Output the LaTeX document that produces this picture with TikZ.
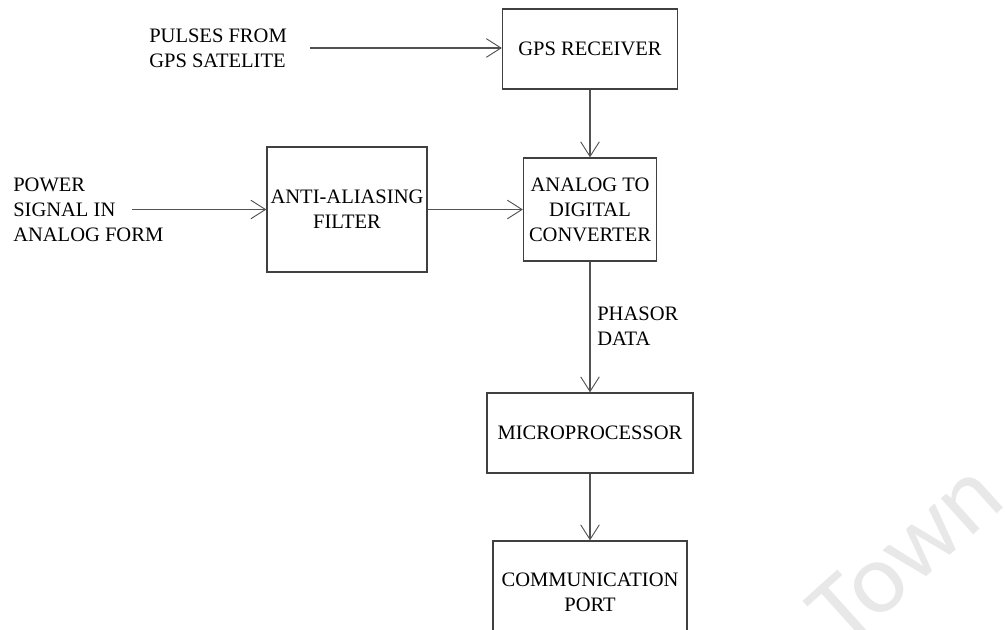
\documentclass[tikz,border=0pt]{standalone}
\usepackage{fontspec}
\setmainfont{Liberation Serif}
\newfontfamily\markfont{Carlito}
\usetikzlibrary{arrows.meta}
\newcommand\blockfont{\fontsize{15.4pt}{18.75pt}\selectfont}
\begin{document}
\begin{tikzpicture}[x=0.75pt,y=-0.75pt,
  block/.style={draw=black!75, line width=1pt, inner sep=0pt, align=center, font=\blockfont},
  sidetext/.style={inner sep=0pt, align=left, font=\blockfont},
  flow/.style={draw=black!68, line width=1.1pt,
    -{Straight Barb[length=11pt,width=14pt,line width=0.7pt]}},
  ]
\useasboundingbox (0,0) rectangle (1005,630);
\clip (0,0) rectangle (1005,630);

% faint watermark behind the diagram
\node[font=\markfont\fontsize{76pt}{76pt}\selectfont, text=black!9, rotate=42]
  (wm) at (905,553) {Town};

% processing blocks
\node[block, minimum width=131.25pt, minimum height=60pt] (gps) at (590,49) {GPS RECEIVER};
\node[block, minimum width=120pt, minimum height=93.75pt] (aaf) at (347,209.5) {ANTI-ALIASING\\FILTER};
\node[block, minimum width=99.75pt, minimum height=77.25pt] (adc) at (590,209.5) {ANALOG TO\\DIGITAL\\CONVERTER};
\node[block, minimum width=154.5pt, minimum height=60pt] (mpu) at (590,433) {MICROPROCESSOR};
\node[block, minimum width=145.5pt, minimum height=77.25pt] (com) at (590,592.5) {COMMUNICATION\\PORT};

% input and signal labels
\node[sidetext, anchor=west] (pulses) at (149,48) {PULSES FROM\\GPS SATELITE};
\node[sidetext, anchor=west] (power) at (13,209.5) {POWER\\SIGNAL IN\\ANALOG FORM};
\node[sidetext, anchor=west] (phasor) at (597,326.5) {PHASOR\\DATA};

\coordinate (gpsin) at (310,48);
\coordinate (pwrin) at (132,209.5);

% signal flow
\draw[flow] (gpsin) -- (gpsin -| gps.west);
\draw[flow] (pwrin) -- (aaf.west);
\draw[flow] (aaf.east) -- (adc.west);
\draw[flow] (gps.south) -- (adc.north);
\draw[flow] (adc.south) -- (mpu.north);
\draw[flow] (mpu.south) -- (com.north);
\end{tikzpicture}
\end{document}
